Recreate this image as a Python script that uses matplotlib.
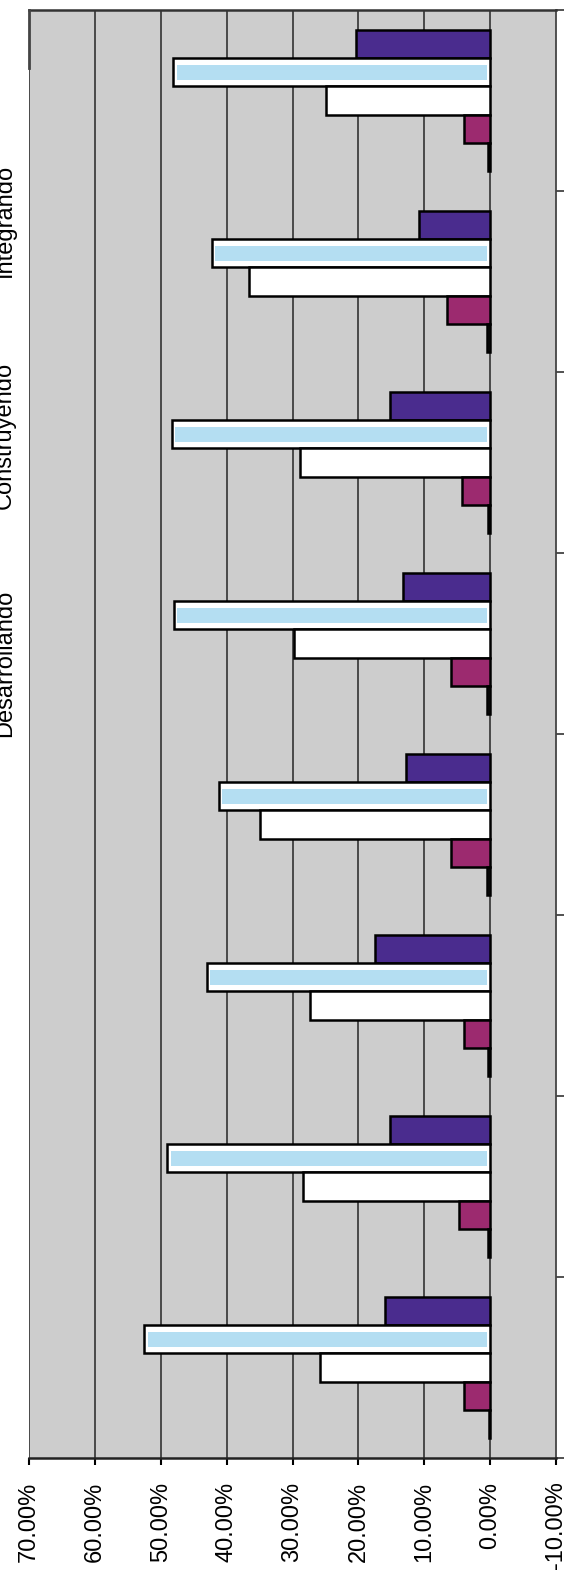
import numpy as np
import matplotlib.pyplot as plt

plt.rcParams['font.family'] = ['Liberation Sans', 'DejaVu Sans']

# grupos de abajo hacia arriba (1 = abajo)
grupos = np.arange(1, 9)

# porcentajes por serie, mismo orden que grupos
morado = [16.0, 15.2, 17.5, 12.7, 13.2, 15.2, 10.8, 20.3]
celeste = [52.5, 49.0, 43.0, 41.2, 48.0, 48.3, 42.2, 48.1]
blanco = [25.8, 28.4, 27.4, 34.9, 29.7, 28.9, 36.6, 24.9]
magenta = [3.9, 4.7, 4.0, 6.0, 5.9, 4.3, 6.6, 3.9]
minimo = [0.2, 0.3, 0.3, 0.4, 0.5, 0.3, 0.5, 0.3]

ticks_val = [0.70, 0.60, 0.50, 0.40, 0.30, 0.20, 0.10, 0.0, -0.10]
tick_labels = ["70.00%", "60.00%", "50.00%", "40.00%", "30.00%",
               "20.00%", "10.00%", "0.00%", "-10.00%"]

leyenda = ["Integrando", "Construyendo", "Desarrollando"]

col_morado = "#4a2c8e"
col_celeste = "#b4def2"
col_magenta = "#9c2a6f"
col_min = "#151515"
gris = "#cdcdcd"

fig = plt.figure(figsize=(5.64, 15.9), dpi=100)
ax = fig.add_axes([29 / 564, 132 / 1590, 527 / 564, 1448 / 1590])
ax.set_facecolor(gris)

h = 0.155
to_frac = lambda v: np.array(v) / 100.0
y = grupos.astype(float)

ax.barh(y + 2 * h, to_frac(morado), height=h, color=col_morado,
        edgecolor="black", linewidth=1.8, zorder=3)
# barra celeste con borde blanco interior
ax.barh(y + h, to_frac(celeste), height=h, color="white",
        edgecolor="black", linewidth=1.8, zorder=3)
ins = 0.005
ax.barh(y + h, to_frac(celeste) - 2 * ins, left=ins, height=h * 0.55,
        color=col_celeste, linewidth=0, zorder=4)
ax.barh(y, to_frac(blanco), height=h, color="white",
        edgecolor="black", linewidth=1.8, zorder=3)
ax.barh(y - h, to_frac(magenta), height=h, color=col_magenta,
        edgecolor="black", linewidth=1.8, zorder=3)
ax.barh(y - 2 * h, to_frac(minimo), height=h, color=col_min,
        edgecolor="black", linewidth=1.8, zorder=3)

ax.set_xlim(0.70, -0.10)
ax.set_ylim(0.5, 8.5)

# eje de valores abajo
ax.set_xticks(ticks_val)
ax.set_xticklabels(tick_labels, rotation=90, fontsize=17, va="top", ha="center")
ax.tick_params(axis="x", direction="out", length=5, width=1.5, pad=12, colors="black")
for v in ticks_val[:-1]:
    ax.axvline(v, color="#333333", lw=1.2, zorder=1)

# eje de categorias a la derecha
ax.yaxis.tick_right()
ax.set_yticks(np.arange(0.5, 9.0, 1.0))
ax.set_yticklabels([])
ax.tick_params(axis="y", direction="out", length=6, width=1.2, colors="#333333")

ax.spines["left"].set_visible(False)
ax.spines["top"].set_color("#333333")
ax.spines["top"].set_linewidth(1.8)
ax.spines["right"].set_color("#444444")
ax.spines["right"].set_linewidth(1.3)
ax.spines["bottom"].set_color("#222222")
ax.spines["bottom"].set_linewidth(1.8)
ax.plot([0, 0], [1, 0.96], transform=ax.transAxes, color="#444444",
        lw=2, clip_on=False, zorder=5)

# textos de leyenda recortados en el borde izquierdo
pos_y = [220, 435, 663]
for txt, py in zip(leyenda, pos_y):
    fig.text(16 / 564, 1 - py / 1590, txt, rotation=90, fontsize=17,
             ha="right", va="center")

fig.savefig("out.png", dpi=100)
